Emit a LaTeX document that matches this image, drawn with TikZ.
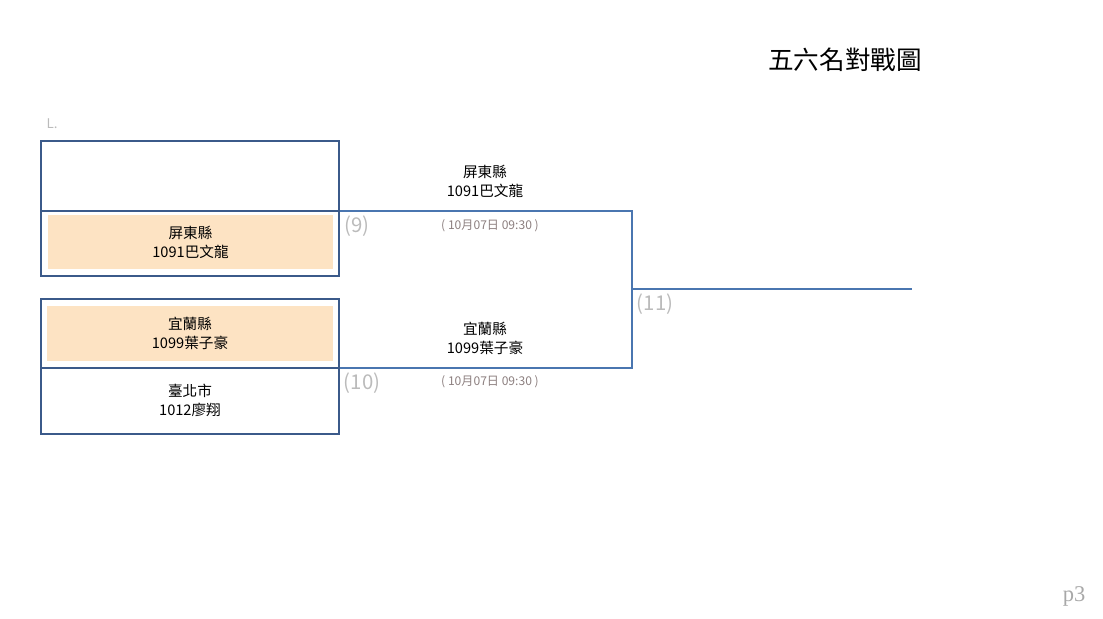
\documentclass[tikz,border=0pt]{standalone}
\usepackage{fontspec}
\setmainfont{Noto Sans CJK TC}
\newfontfamily\pagefont{Liberation Serif}
\usetikzlibrary{positioning}
\definecolor{boxblue}{HTML}{3B5A8A}
\definecolor{lineblue}{HTML}{4A76B0}
\definecolor{winfill}{HTML}{FDE3C3}
\definecolor{numgray}{HTML}{BBBBBB}
\definecolor{dategray}{HTML}{8C7F7F}

\begin{document}
\begin{tikzpicture}[x=0.025cm,y=-0.025cm,every node/.style={inner sep=0pt,align=center},
  slot/.style={draw=boxblue,line width=1.4pt,minimum width=7.45cm},
  winner/.style={fill=winfill,minimum width=7.125cm,minimum height=1.35cm,font=\fontsize{10.4}{13.5}\selectfont},
  team/.style={font=\fontsize{10.4}{13.5}\selectfont},
  date/.style={font=\fontsize{8.6}{10}\selectfont,text=dategray},
  num/.style={font=\fontsize{14.5}{16}\selectfont,text=numgray},
  bline/.style={draw=lineblue,line width=1.1pt}]
\useasboundingbox (0,0) rectangle (1103,618);

\node[font=\fontsize{18.2}{21}\selectfont] (title) at (845,60) {五六名對戰圖};
\node[font=\fontsize{9.5}{11}\selectfont,text=numgray] (L) at (52,124) {L.};

% first round
\node[slot,minimum height=1.75cm]  (s1) at (190,176)   {};
\node[slot,minimum height=1.625cm] (s2) at (190,243.5) {};
\node[slot,minimum height=1.725cm] (s3) at (190,333.5) {};
\node[slot,minimum height=1.65cm]  (s4) at (190,401)   {};
\node[winner] (p2) at (190.5,242) {屏東縣\\1091巴文龍};
\node[winner] (p3) at (190,333.5) {宜蘭縣\\1099葉子豪};
\node[team]   (p4) at (190,400.5) {臺北市\\1012廖翔};

% bracket
\coordinate (m9)  at (632,211);
\coordinate (m10) at (632,368);
\coordinate (w11) at (632,289);
\coordinate (e11) at (912,289);
\draw[bline] (m9 -| s2.east) -- (m9) -- (m10) -- (m10 -| s4.east);
\draw[bline] (w11) -- (e11);

\node[num] (n9)  at (357,226) {(9)};
\node[num] (n10) at (362,383) {(10)};
\node[num] (n11) at (655,304) {(11)};

\node[team] (r9)  at (485,181) {屏東縣\\1091巴文龍};
\node[date] (d9)  at (490,226) {( 10月07日 09:30 )};
\node[team] (r10) at (485,338.5) {宜蘭縣\\1099葉子豪};
\node[date] (d10) at (490,382) {( 10月07日 09:30 )};

\node[font=\pagefont\fontsize{16}{18}\selectfont,text=numgray!90!black] (pg) at (1074,596) {p3};
\end{tikzpicture}
\end{document}
